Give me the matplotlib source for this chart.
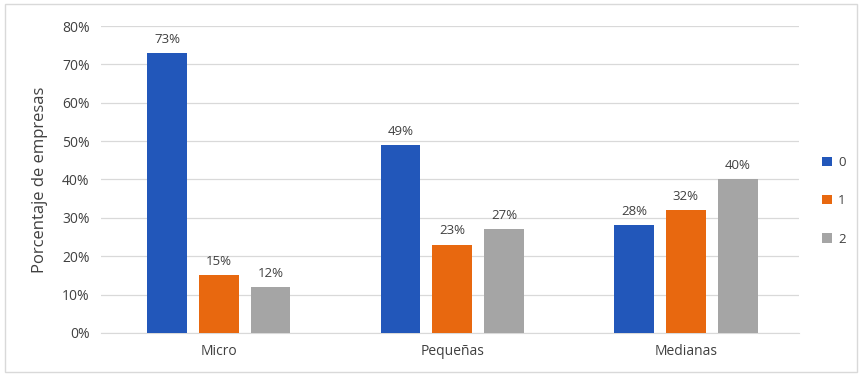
import matplotlib.pyplot as plt
import numpy as np
from matplotlib.patches import Rectangle

# porcentaje de empresas por tamaño y grupo
categorias = ["Micro", "Pequeñas", "Medianas"]
grupos = ["0", "1", "2"]
valores_0 = [73, 49, 28]
valores_1 = [15, 23, 32]
valores_2 = [12, 27, 40]
yticks = [0, 10, 20, 30, 40, 50, 60, 70, 80]

colores = ["#2257BA", "#E8680F", "#A5A5A5"]
texto = "#404040"

plt.rcParams['font.family'] = ['Open Sans', 'DejaVu Sans']

fig = plt.figure(figsize=(8.62, 3.77), dpi=100)
fig.patches.append(Rectangle((0.006, 0.012), 0.988, 0.978, transform=fig.transFigure,
                             fill=False, edgecolor="#D9D9D9", linewidth=1))
ax = fig.add_axes([0.117, 0.117, 0.81, 0.814])

x = np.arange(len(categorias))
ancho = 0.17
paso = 0.222
series = [valores_0, valores_1, valores_2]
for i, (vals, g) in enumerate(zip(series, grupos)):
    barras = ax.bar(x + (i - 1) * paso, vals, ancho, color=colores[i], label=g, zorder=3)
    for b, v in zip(barras, vals):
        ax.text(b.get_x() + b.get_width() / 2, v + 1.9, f"{v}%", ha="center", va="bottom",
                fontsize=9.5, color=texto)

ax.set_xlim(-0.505, 2.485)
ax.set_ylim(0, 80)
ax.set_yticks(yticks)
ax.set_yticklabels([f"{t}%" for t in yticks], fontsize=10, color=texto)
ax.set_xticks(x)
ax.set_xticklabels(categorias, fontsize=10, color=texto)
ax.tick_params(length=0, pad=8)
ax.grid(axis="y", color="#D9D9D9", linewidth=0.9, zorder=0)
for s in ["top", "right", "left"]:
    ax.spines[s].set_visible(False)
ax.spines["bottom"].set_color("#D9D9D9")
ax.set_ylabel("Porcentaje de empresas", fontsize=12, color=texto, labelpad=10)

fig.legend(*ax.get_legend_handles_labels(), loc="center left",
           bbox_to_anchor=(0.954, 0.467), frameon=False, fontsize=9.5,
           handlelength=0.7, handleheight=0.7, labelspacing=1.9, handletextpad=0.5,
           labelcolor=texto, borderpad=0, borderaxespad=0)

fig.savefig("out.png", dpi=100)
